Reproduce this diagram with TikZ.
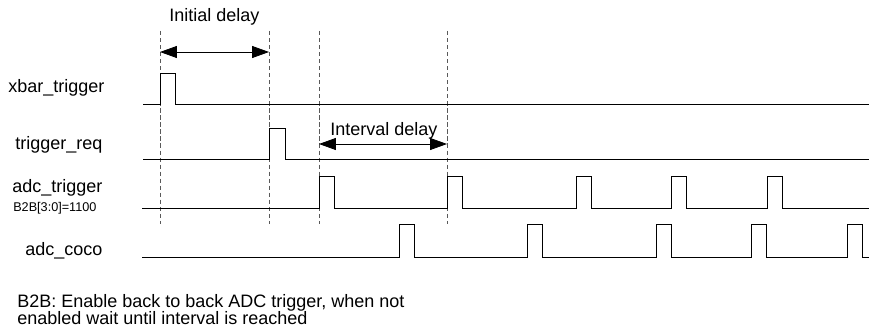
\documentclass[tikz,border=0pt]{standalone}
\usepackage{fontspec}
\setmainfont{Liberation Sans}
\usetikzlibrary{arrows.meta}
\tikzset{
  sig/.style={line width=0.65pt, black},
  marker/.style={dash pattern=on 3pt off 2pt, line width=0.5pt, black!65},
  span/.style={{Triangle[length=12pt,width=8.5pt]}-{Triangle[length=12pt,width=8.5pt]}, line width=0.6pt},
  lbl/.style={font=\fontsize{12.8}{15}\selectfont, inner sep=0pt},
  tinylbl/.style={font=\fontsize{9}{11}\selectfont, inner sep=0pt}
}
\begin{document}
\begin{tikzpicture}[x=0.025cm, y=-0.025cm]
\useasboundingbox (0,0) rectangle (869,328);
% time markers
\foreach \x/\n in {160/m1,269/m2,319/m3,447/m4}{
  \coordinate (\n-top) at (\x,31);
  \coordinate (\n-bot) at (\x,224);
  \draw[marker] (\n-top) -- (\n-bot);
}
% delays
\coordinate (init-a) at (160,52);
\coordinate (init-b) at (269,52);
\draw[span] (init-a) -- (init-b);
\node[lbl, anchor=base west] (initlbl) at (169,22) {Initial delay};
\coordinate (intv-a) at (319,144);
\coordinate (intv-b) at (447,144);
\draw[span] (intv-a) -- (intv-b);
\node[lbl, anchor=base west] (intvlbl) at (330,135) {Interval delay};
% signal names
\node[lbl, anchor=base west] (xbarlbl) at (8,93) {xbar\_trigger};
\node[lbl, anchor=base west] (reqlbl) at (15,150) {trigger\_req};
\node[lbl, anchor=base west] (adclbl) at (12,192) {adc\_trigger};
\node[tinylbl, anchor=base west] (b2blbl) at (13,211) {B2B[3:0]=1100};
\node[lbl, anchor=base west] (cocolbl) at (25,255) {adc\_coco};
% waveforms
\draw[sig] (143,104) -- (160,104) -- (160,73) -- (175,73) -- (175,104) -- (869,104);
\draw[sig] (143,159) -- (269,159) -- (269,128) -- (285,128) -- (285,159) -- (869,159);
\draw[sig] (142,208) foreach \x in {319,447,576,671,767}{
  -- (\x,208) -- (\x,176) -- (\x+15,176) -- (\x+15,208)} -- (869,208);
\draw[sig] (142,257) foreach \x in {399,527,656,751,847}{
  -- (\x,257) -- (\x,224) -- (\x+15,224) -- (\x+15,257)} -- (869,257);
% note
\node[lbl, anchor=base west] (note1) at (17,307) {B2B: Enable back to back ADC trigger, when not};
\node[lbl, anchor=base west] (note2) at (17,324) {enabled wait until interval is reached};
\end{tikzpicture}
\end{document}
